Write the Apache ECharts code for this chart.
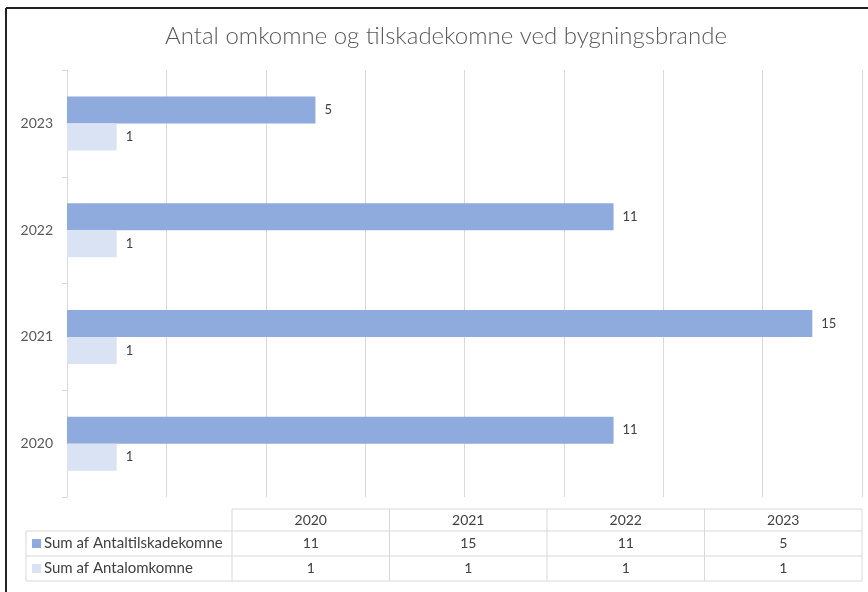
<!DOCTYPE html>
<html>
<head>
<meta charset="utf-8">
<script src="https://cdn.jsdelivr.net/npm/echarts@6/dist/echarts.min.js"></script>
<style>
html,body{margin:0;padding:0;background:#fff}
#chart{width:868px;height:592px}
</style>
</head>
<body>
<div id="chart"></div>
<script>
var years = ['2020','2021','2022','2023'];
var injured = [11,15,11,5];   // Sum af Antaltilskadekomne
var dead = [1,1,1,1];         // Sum af Antalomkomne
var seriesNames = ['Sum af Antaltilskadekomne','Sum af Antalomkomne'];
var colors = ['#8faadc','#dae3f3'];

var font = 'Lato, "Open Sans", sans-serif';
var gridCol = '#d9d9d9';
var txtCol = '#404040';

// data table under the chart
var tblX = 232, colW = 157.5, legX = 26;
var rowY = [509, 531, 556, 581];
function buildTable(){
    var els = [];
    var right = tblX + colW*years.length;
    // horizontal lines
    els.push({type:'line',shape:{x1:tblX,y1:rowY[0],x2:right,y2:rowY[0]},style:{stroke:gridCol,lineWidth:1}});
    for(var r=1;r<rowY.length;r++){
        els.push({type:'line',shape:{x1:legX,y1:rowY[r],x2:right,y2:rowY[r]},style:{stroke:gridCol,lineWidth:1}});
    }
    // vertical lines
    els.push({type:'line',shape:{x1:legX,y1:rowY[1],x2:legX,y2:rowY[3]},style:{stroke:gridCol,lineWidth:1}});
    for(var c=0;c<=years.length;c++){
        els.push({type:'line',shape:{x1:tblX+colW*c,y1:rowY[0],x2:tblX+colW*c,y2:rowY[3]},style:{stroke:gridCol,lineWidth:1}});
    }
    var rows = [years, injured, dead];
    for(var i=0;i<rows.length;i++){
        var cy = (rowY[i]+rowY[i+1])/2;
        for(var j=0;j<years.length;j++){
            els.push({type:'text',x:tblX+colW*j+colW/2,y:cy,style:{
                text:String(rows[i][j]),fill:txtCol,font:'14px '+font,
                align:'center',verticalAlign:'middle',textAlign:'center',textVerticalAlign:'middle'}});
        }
        if(i>0){
            els.push({type:'rect',shape:{x:32,y:cy-4.5,width:9,height:9},style:{fill:colors[i-1]}});
            els.push({type:'text',x:44,y:cy,style:{
                text:seriesNames[i-1],fill:txtCol,font:'15px '+font,
                align:'left',verticalAlign:'middle',textAlign:'left',textVerticalAlign:'middle'}});
        }
    }
    // outer frame (top and left edges visible)
    els.push({type:'line',shape:{x1:6,y1:8,x2:868,y2:8},style:{stroke:'#222',lineWidth:2}});
    els.push({type:'line',shape:{x1:6,y1:8,x2:6,y2:592},style:{stroke:'#222',lineWidth:2}});
    return els;
}

var myChart = echarts.init(document.getElementById('chart'));
myChart.setOption({
    backgroundColor:'#fff',
    animation:false,
    title:{
        text:'Antal omkomne og tilskadekomne ved bygningsbrande',
        left:441, top:19, textAlign:'center',
        textStyle:{fontFamily:font,fontSize:24,fontWeight:300,color:'#595959'}
    },
    grid:{left:67,right:6,top:70,bottom:95,containLabel:false},
    xAxis:{
        type:'value',min:0,max:16,interval:2,
        axisLabel:{show:false},axisLine:{show:false},axisTick:{show:false},
        splitLine:{lineStyle:{color:gridCol,width:1}}
    },
    yAxis:{
        type:'category',data:years,
        axisLine:{lineStyle:{color:gridCol}},
        axisTick:{show:true,length:5,lineStyle:{color:gridCol}},
        axisLabel:{color:'#595959',fontFamily:font,fontSize:14,margin:14}
    },
    series:[
        {
            name:seriesNames[0],type:'bar',data:injured,barWidth:27,barGap:'0%',
            itemStyle:{color:colors[0]},
            label:{show:true,position:'right',distance:9,color:txtCol,fontFamily:font,fontSize:13}
        },
        {
            name:seriesNames[1],type:'bar',data:dead,barWidth:27,barGap:'0%',
            itemStyle:{color:colors[1]},
            label:{show:true,position:'right',distance:9,color:txtCol,fontFamily:font,fontSize:13}
        }
    ],
    graphic:buildTable()
});
</script>
</body>
</html>
